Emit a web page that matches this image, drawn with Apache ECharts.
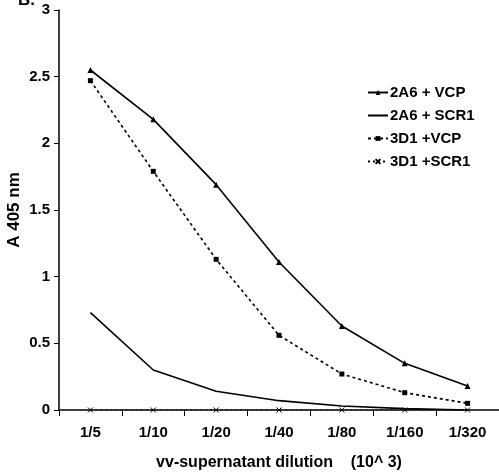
<!DOCTYPE html>
<html><head><meta charset="utf-8">
<script src="https://cdn.jsdelivr.net/npm/echarts@6/dist/echarts.min.js"></script>
<style>html,body{margin:0;padding:0;background:#fff}#c{width:499px;height:476px}</style>
</head><body><div id="c"></div>
<script>
const categories = ['1/5','1/10','1/20','1/40','1/80','1/160','1/320'];
const a2A6VCP  = [2.55, 2.18, 1.69, 1.11, 0.63, 0.35, 0.18];
const a2A6SCR1 = [0.73, 0.30, 0.14, 0.07, 0.03, 0.01, 0.00];
const a3D1VCP  = [2.47, 1.79, 1.13, 0.56, 0.27, 0.13, 0.05];
const a3D1SCR1 = [0.00, 0.00, 0.00, 0.00, 0.00, 0.00, 0.00];
const seriesNames = ['2A6 + VCP','2A6 + SCR1','3D1 +VCP','3D1 +SCR1'];
const yTicks = [0, 0.5, 1, 1.5, 2, 2.5, 3];

const FONT = '"Liberation Sans", Arial, sans-serif';
const xSym = 'path://M0,0L10,10M10,0L0,10';
const chart = echarts.init(document.getElementById('c'));
const lbl = {color:'#000', fontFamily: FONT, fontWeight:'bold', fontSize:15};
chart.setOption({
  animation:false,
  textStyle:{fontFamily:FONT},
  graphic:[{type:'text', left:18, top:-8, style:{text:'B.', font:'bold 17px '+FONT, fill:'#000'}}],
  grid:{left:59, right:0, top:10, bottom:66, containLabel:false, outerBoundsMode:'none'},
  legend:{
    orient:'vertical', left:362, top:80, itemGap:8, itemWidth:20, itemHeight:6,
    textStyle:Object.assign({}, lbl, {fontSize:15, padding:[0,0,0,-3]}),
    data:[
      {name:seriesNames[0]},
      {name:seriesNames[1], itemStyle:{color:'rgba(0,0,0,0)', borderWidth:0}},
      {name:seriesNames[2]},
      {name:seriesNames[3]}
    ]
  },
  xAxis:{
    type:'category', data:categories, boundaryGap:true,
    name:'vv-supernatant dilution    (10^ 3)', nameLocation:'middle', nameGap:45,
    nameMoveOverlap:false,
    nameTextStyle:Object.assign({}, lbl, {fontSize:16}),
    axisLine:{lineStyle:{color:'#000', width:1.5}},
    axisTick:{show:true, length:6, lineStyle:{color:'#000'}},
    axisLabel:Object.assign({}, lbl, {margin:15})
  },
  yAxis:{
    type:'value', min:0, max:3, interval:0.5,
    name:'A 405 nm', nameLocation:'middle', nameGap:32, nameRotate:90,
    nameMoveOverlap:false,
    nameTextStyle:Object.assign({}, lbl, {fontSize:17, padding:[0,0,4,0]}),
    axisLine:{show:true, lineStyle:{color:'#000', width:1.5}},
    axisTick:{show:true, length:5, lineStyle:{color:'#000'}},
    splitLine:{show:false},
    axisLabel:Object.assign({}, lbl, {margin:9, formatter:v=>yTicks.includes(v)?String(v):''})
  },
  series:[
    {name:seriesNames[0], type:'line', data:a2A6VCP, symbol:'triangle', symbolSize:6,
     lineStyle:{color:'#000', width:1.6}, itemStyle:{color:'#000'}},
    {name:seriesNames[1], type:'line', data:a2A6SCR1, symbol:'none', showSymbol:false,
     lineStyle:{color:'#000', width:1.6}, itemStyle:{color:'#000'}},
    {name:seriesNames[2], type:'line', data:a3D1VCP, symbol:'rect', symbolSize:5,
     lineStyle:{color:'#000', width:1.6, type:[3,3]}, itemStyle:{color:'#000'}},
    {name:seriesNames[3], type:'line', data:a3D1SCR1, symbol:xSym, symbolSize:5,
     lineStyle:{color:'#000', width:1.2, type:[2,3]}, itemStyle:{color:'#000', borderColor:'#000', borderWidth:1}}
  ]
});
</script></body></html>
